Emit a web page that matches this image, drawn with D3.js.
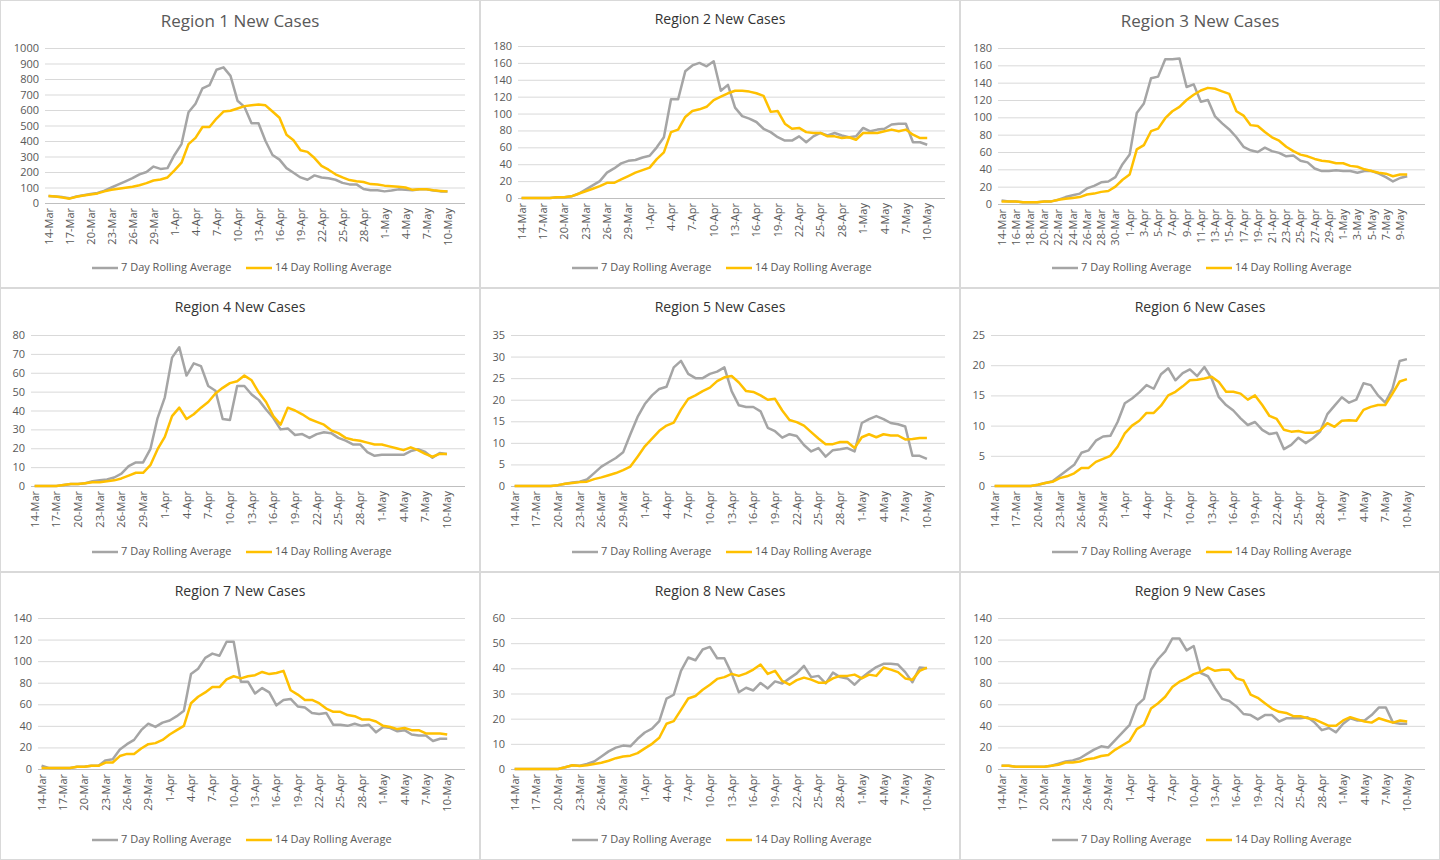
<!DOCTYPE html>
<html>
<head>
<meta charset="utf-8">
<script src="https://cdn.jsdelivr.net/npm/d3@7"></script>
<style>
  body { margin: 0; background: #fff; }
  svg { font-family: "Open Sans", "Liberation Sans", sans-serif; }
</style>
</head>
<body>
<svg id="chart" width="1440" height="860"></svg>
<script>
// 58 daily points, 14-Mar to 10-May
const dates = d3.timeDay.range(new Date(2020, 2, 14), new Date(2020, 4, 11));
const fmt = d3.timeFormat("%-d-%b");
const categories = dates.map(fmt);

const regions = ["Region 1 New Cases", "Region 2 New Cases", "Region 3 New Cases",
  "Region 4 New Cases", "Region 5 New Cases", "Region 6 New Cases",
  "Region 7 New Cases", "Region 8 New Cases", "Region 9 New Cases"];

const seriesNames = ["7 Day Rolling Average", "14 Day Rolling Average"];

const yMax = [1000, 180, 180, 80, 35, 25, 140, 60, 140];
const yStep = [100, 20, 20, 10, 5, 5, 20, 10, 20];
const tickEvery = [3, 3, 2, 3, 3, 3, 3, 3, 3];

const seven1 = [45,42,38,30,42,50,58,65,80,100,120,140,160,185,200,235,220,225,310,380,585,640,740,760,860,875,820,660,620,515,515,400,310,280,225,195,165,150,178,165,160,150,130,120,120,90,82,82,75,80,88,85,82,88,88,80,75,75];
const fourteen1 = [45,42,35,28,40,48,55,62,75,85,92,98,105,115,128,145,152,165,210,260,380,420,490,490,545,590,595,610,625,630,635,630,590,550,440,405,340,330,290,240,215,185,165,148,140,135,122,120,112,108,105,100,85,88,88,82,78,75];
const seven2 = [0,0,0,0,0,1,1,2,5,10,15,20,30,35,41,44,45,48,50,60,72,117,117,150,157,160,156,162,127,134,107,97,94,90,82,78,72,68,68,73,66,73,77,74,77,74,72,73,83,79,81,82,87,88,88,66,66,63];
const fourteen2 = [0,0,0,0,0,1,1,2,5,8,11,14,18,18,22,26,30,33,36,46,54,78,81,96,103,105,108,116,120,124,127,127,126,124,121,102,103,88,82,83,78,77,77,73,73,71,72,69,77,77,77,79,81,79,81,75,71,71];
const seven3 = [4,3,3,2,2,2,3,3,5,8,10,12,18,21,25,26,31,46,57,105,116,145,147,167,167,168,135,138,118,120,101,93,86,77,66,62,60,65,61,59,55,56,50,48,41,38,38,39,38,38,36,38,38,35,31,26,30,32];
const fourteen3 = [3,3,3,2,2,2,3,3,5,6,7,8,11,12,14,15,20,28,34,63,68,84,87,99,107,112,120,126,131,134,133,130,127,107,102,91,90,83,77,73,66,61,57,55,52,50,49,47,47,44,43,40,38,36,35,32,34,34];
const seven4 = [0,0,0,0,0.5,1,1,1.5,2.5,3,3.5,4.5,6.5,10.5,12.5,12.5,19.5,36,47,68,73.5,58.5,65,63.5,53,50.5,35.5,35,53,53,48.5,45.5,40.5,36,30,30.5,27,27.5,25.5,27.5,28.5,28,25.5,24,22,22,18,16,16.5,16.5,16.5,16.5,18.5,19.5,18,15,17.5,17];
const fourteen4 = [0,0,0,0,0.5,1,1,1.5,2,2,2.5,3,4,5.5,7,7,11,19.5,26,37,41.5,35.5,38,41.5,44.5,49,52,54.5,55.5,58.5,56,49.5,44.5,37,32.5,41.5,40,38,35.5,34,32.5,29.5,28,25.5,24.5,24,23,22,22,21,20,19,20.5,19,17,15.5,17,17];
const seven5 = [0,0,0,0,0,0,0.2,0.5,0.8,1,1.5,3,4.5,5.5,6.5,7.8,12,16,19,21,22.5,23,27.5,29,26,25,25,26,26.5,27.5,22,18.7,18.3,18.3,17.3,13.5,12.7,11.2,12,11.6,9.5,8,8.8,6.8,8.3,8.5,8.8,8,14.6,15.5,16.2,15.5,14.6,14.3,13.8,7,7,6.3];
const fourteen5 = [0,0,0,0,0,0,0.2,0.5,0.7,0.9,1,1.6,2,2.5,3,3.7,4.5,6.8,9.2,11,12.8,14,14.7,17.7,20.2,21,22,22.8,24.3,25.2,25.5,24,22,21.8,21,20,20.2,17.5,15.3,14.8,14,12.5,11,9.7,9.7,10.2,10.2,8.8,11.3,12,11.3,12,11.7,11.7,10.8,10.9,11.1,11.1];
const seven6 = [0,0,0,0,0,0,0.2,0.5,0.8,1.7,2.6,3.5,5.5,5.9,7.5,8.2,8.3,10.6,13.7,14.5,15.5,16.7,16.1,18.5,19.5,17.5,18.7,19.3,18.2,19.7,17.8,14.7,13.4,12.5,11.2,10.1,10.6,9.3,8.6,8.8,6.1,6.8,8,7.1,7.9,9,11.9,13.3,14.7,13.8,14.3,17,16.7,15,13.8,16.1,20.7,21];
const fourteen6 = [0,0,0,0,0,0,0.2,0.5,0.7,1.3,1.6,2.1,3,3,4,4.5,5,6.5,8.7,10,10.8,12.1,12.1,13.3,15,15.6,16.5,17.5,17.6,17.8,18.1,17.2,15.6,15.6,15.3,14.3,15,13.4,11.6,11.1,9.3,9,9.1,8.8,8.8,9.2,10.4,9.8,10.8,10.9,10.8,12.6,13.1,13.4,13.4,15.3,17.3,17.7];
const seven7 = [3,1,1,1,1,2,2,3,3,8,9,18,23,27,36,42,39,43,45,49,54,88,93,103,107,105,118,118,81,81,70,75,71,59,64,65,58,57,52,51,52,41,41,40,42,40,41,34,39,38,35,36,32,31,31,26,28,28];
const fourteen7 = [1,1,1,1,1,2,2,3,3,6,6,12,14,14,19,23,24,27,32,36,40,61,67,71,76,76,83,86,84,86,87,90,88,89,91,73,69,64,64,61,56,53,53,50,49,46,46,44,40,39,37,38,36,36,33,33,33,32];
const seven8 = [0,0,0,0,0,0,0,0.7,1.5,1.3,2,3,5,7,8.5,9.3,9,12,14.5,16,19,28,29.5,39,44.3,43.2,47.5,48.5,44,44,38,30.5,32.3,31.2,34.2,32,34.8,34,36,38,41,36.5,37,34,38.3,36.5,36,33.5,36.3,38.5,40.5,41.8,41.8,41.5,38.5,34.5,40.3,40];
const fourteen8 = [0,0,0,0,0,0,0,0.7,1.5,1.2,1.5,2,2.5,3.3,4.3,5,5.3,6.3,8.2,10,12.4,18,19,23.5,28,29,31.5,33.5,35.8,36.5,37.8,37,38,39.5,41.5,37.8,39,35,33.5,35.3,36.3,35.5,34.3,34.3,36,37,37,37.5,36,37.5,37,40.3,39.5,38.5,36,35.5,39,40.3];
const seven9 = [3,3,2,2,2,2,2,3,5,7,8,10,14,18,21,20,27,34,41,59,65,92,102,109,121,121,110,114,89,86,75,65,63,58,51,50,46,50,50,44,47,47,47,48,43,36,38,34,42,47,45,45,50,57,57,43,42,42];
const fourteen9 = [3,3,2,2,2,2,2,3,4,6,6,7,9,10,12,13,18,22,26,37,41,56,61,67,76,81,84,88,90,94,91,92,92,84,82,69,66,61,56,53,52,49,49,47,46,43,40,40,45,48,46,44,43,47,45,43,45,44];

const sevenDay = [seven1, seven2, seven3, seven4, seven5, seven6, seven7, seven8, seven9];
const fourteenDay = [fourteen1, fourteen2, fourteen3, fourteen4, fourteen5, fourteen6, fourteen7, fourteen8, fourteen9];

const colors = ["#a5a5a5", "#ffc000"];
const textColor = "#595959";

const svg = d3.select("#chart");
const panelW = 480, rowTops = [0, 288, 572], rowH = [288, 284, 288];
// plot top / zero line offsets inside each panel
const plotY = [[48, 203], [46, 198], [48, 204], [47, 198], [47, 198], [47, 198], [46, 197], [46, 197], [46, 197]];
const titleSize = [17, 14, 17, 14, 14, 14, 14, 14, 14];
const titleY = [22, 20, 22, 20, 20, 20, 20, 20, 20];

// x domain holds two empty trailing slots like the source
const xDomain = categories.concat(["_a", "_b"]);

regions.forEach((title, i) => {
  const col = i % 3, row = Math.floor(i / 3);
  const g = svg.append("g").attr("transform", `translate(${col * panelW},${rowTops[row]})`);

  g.append("rect").attr("x", 0.5).attr("y", 0.5)
    .attr("width", panelW - 1).attr("height", rowH[row] - 1)
    .attr("fill", "#fff").attr("stroke", "#d9d9d9");

  g.append("text").attr("x", panelW / 2).attr("y", titleY[i])
    .attr("text-anchor", "middle").attr("dominant-baseline", "middle")
    .attr("font-size", titleSize[i]).attr("fill", i === 0 || i === 2 ? textColor : "#333")
    .text(title);

  const digits = String(yMax[i]).length;
  const left = 17 + 7 * digits, right = 465;
  const x = d3.scaleBand().domain(xDomain).range([left, right]);
  const y = d3.scaleLinear().domain([0, yMax[i]]).range([plotY[i][1], plotY[i][0]]);

  const yTicks = d3.range(0, yMax[i] + yStep[i] / 2, yStep[i]);
  g.append("g").selectAll("line").data(yTicks).join("line")
    .attr("x1", left).attr("x2", right)
    .attr("y1", d => y(d) + 0.5).attr("y2", d => y(d) + 0.5)
    .attr("stroke", d => d === 0 ? "#bfbfbf" : "#d9d9d9").attr("stroke-width", 1);

  const yAxis = g.append("g").attr("transform", `translate(${left},0)`)
    .call(d3.axisLeft(y).tickValues(yTicks).tickFormat(d3.format("d")).tickSize(0).tickPadding(6));
  yAxis.select(".domain").remove();
  yAxis.selectAll("text").attr("font-size", 11).attr("fill", textColor)
    .style("font-family", "'Open Sans', sans-serif");

  const xAxis = g.append("g").attr("transform", `translate(0,${plotY[i][1]})`)
    .call(d3.axisBottom(x)
      .tickValues(categories.filter((c, k) => k % tickEvery[i] === 0))
      .tickSize(0).tickPadding(0));
  xAxis.select(".domain").remove();
  xAxis.selectAll("text")
    .attr("font-size", 11).attr("fill", textColor)
    .style("font-family", "'Open Sans', sans-serif")
    .attr("text-anchor", "end").attr("dy", null)
    .attr("transform", "translate(4,5) rotate(-90)")
    .attr("y", 0).attr("x", 0);

  const line = d3.line().x((d, k) => x(categories[k]) + x.bandwidth() / 2).y(d => y(d));
  [sevenDay[i], fourteenDay[i]].forEach((vals, s) => {
    g.append("path").datum(vals).attr("d", line)
      .attr("fill", "none").attr("stroke", colors[s]).attr("stroke-width", 2.5)
      .attr("stroke-linejoin", "round");
  });

  const legY = rowH[row] - 20;
  const leg = g.append("g").attr("transform", `translate(${panelW / 2},${legY})`);
  const items = [[-148, seriesNames[0]], [6, seriesNames[1]]];
  items.forEach(([lx, name], s) => {
    leg.append("line").attr("x1", lx).attr("x2", lx + 26).attr("y1", 0).attr("y2", 0)
      .attr("stroke", colors[s]).attr("stroke-width", 2.5);
    leg.append("text").attr("x", lx + 29).attr("y", 0).attr("dominant-baseline", "middle")
      .attr("font-size", 11).attr("fill", textColor).text(name);
  });
});
</script>
</body>
</html>
